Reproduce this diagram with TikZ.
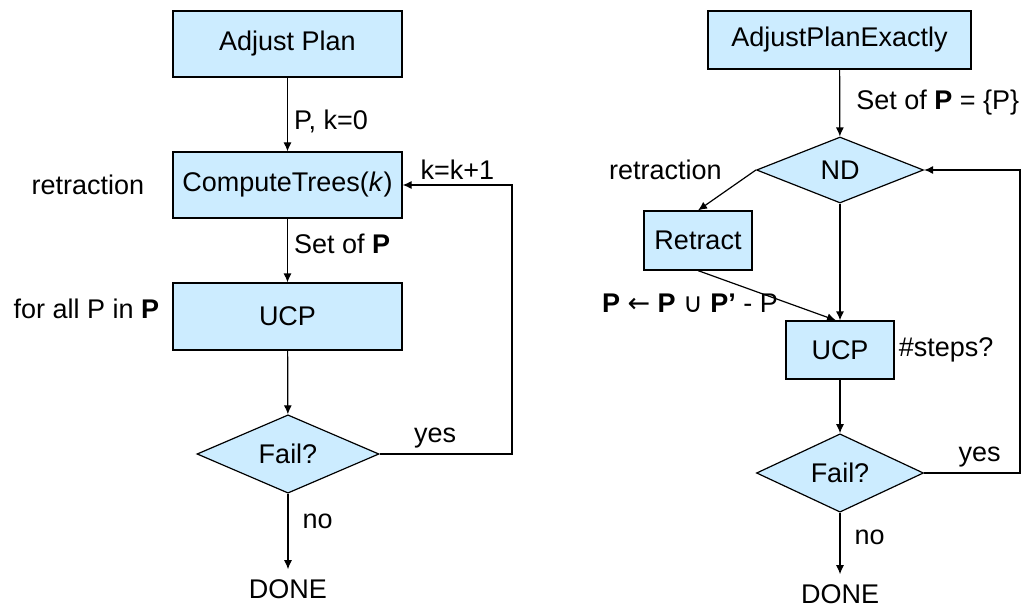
\documentclass[tikz,border=0pt]{standalone}
\usepackage{fontspec}
\setmainfont{Liberation Sans}
\newfontfamily\symfont{DejaVu Sans}
\usetikzlibrary{arrows.meta,positioning,shapes.geometric}
\definecolor{BoxBlue}{HTML}{CCECFF}

\begin{document}
\begin{tikzpicture}[
	x=1pt, y=-1pt,
	font=\fontsize{27}{32}\selectfont,
	stepbox/.style={
		draw=black,
		fill=BoxBlue,
		line width=1.2pt,
		minimum width=229pt,
		minimum height=66pt,
		inner sep=0pt
	},
	decision/.style={
		diamond,
		draw=black,
		fill=BoxBlue,
		line width=1.2pt,
		inner sep=0pt
	},
	flow/.style={
		-{Latex[length=9pt,width=8pt]},
		line width=1.2pt
	},
	lbl/.style={inner sep=2pt},
	done/.style={inner sep=10pt}
]
\useasboundingbox (0,0) rectangle (1033,607);

% left chart
\node[stepbox] (adjust) at (287.5,44) {Adjust Plan};
\node[stepbox] (compute) at (287.5,185) {ComputeTrees(\textit{k})};
\node[stepbox, minimum height=67pt] (ucp) at (287.5,316.5) {UCP};
\node[decision, minimum width=182pt, minimum height=74pt] (fail) at (288,454) {Fail?};
\node[done] (done) at (288,589) {DONE};
\coordinate (loop) at (512,454);

\node[lbl, left=26pt of compute] (retr) {retraction};
\node[lbl, left=11pt of ucp, yshift=8pt] (forall) {for all P in \textbf{P}};

\draw[flow] (adjust) -- node[lbl, right=4pt, pos=0.6] {P, k=0} (compute);
\draw[flow] (compute) -- node[lbl, right=4pt, pos=0.4] {Set of \textbf{P}} (ucp);
\draw[flow] (ucp) -- (fail);
\draw[flow] (fail) -- node[lbl, right=12pt, pos=0.36] {no} (done);
\draw[flow] (fail.east) -- node[lbl, above=3pt, pos=0.42] {yes} (loop)
	|- node[lbl, above=3pt, pos=0.75] {k=k+1} (compute.east);

% right chart
\node[stepbox, minimum width=263pt, minimum height=58pt] (exact) at (839.5,40) {AdjustPlanExactly};
\node[decision, minimum width=167pt, minimum height=66pt] (nd) at (840,170) {ND};
\node[stepbox, minimum width=108pt, minimum height=59pt] (retract) at (698,240.5) {Retract};
\node[stepbox, minimum width=108pt, minimum height=58pt] (ucpx) at (840,350) {UCP};
\node[decision, minimum width=167pt, minimum height=66pt] (failx) at (840,473) {Fail?};
\node[done] (donex) at (840,594) {DONE};
\coordinate (loopx) at (1020,473);

\node[lbl, left=32pt of nd] (retrx) {retraction};
\node[lbl, right=2pt of ucpx] (steps) {\#steps?};
\node[lbl] (update) at (690,303) {\textbf{P} {\symfont ←} \textbf{P} {\symfont ∪} \textbf{P’} - P};

\draw[flow] (exact) -- node[lbl, right=14pt, pos=0.49] {Set of \textbf{P} = \{P\}} (nd);
\draw[flow] (nd.west) -- (retract.north);
\draw[flow] (nd.south) -- (ucpx.north);
\draw[flow] (retract.south) -- ([xshift=-4pt]ucpx.north);
\draw[flow] (ucpx) -- (failx);
\draw[flow] (failx) -- node[lbl, right=12pt, pos=0.4] {no} (donex);
\draw[flow] (failx.east) -- node[lbl, above=3pt, pos=0.58] {yes} (loopx)
	|- (nd.east);

\end{tikzpicture}
\end{document}
